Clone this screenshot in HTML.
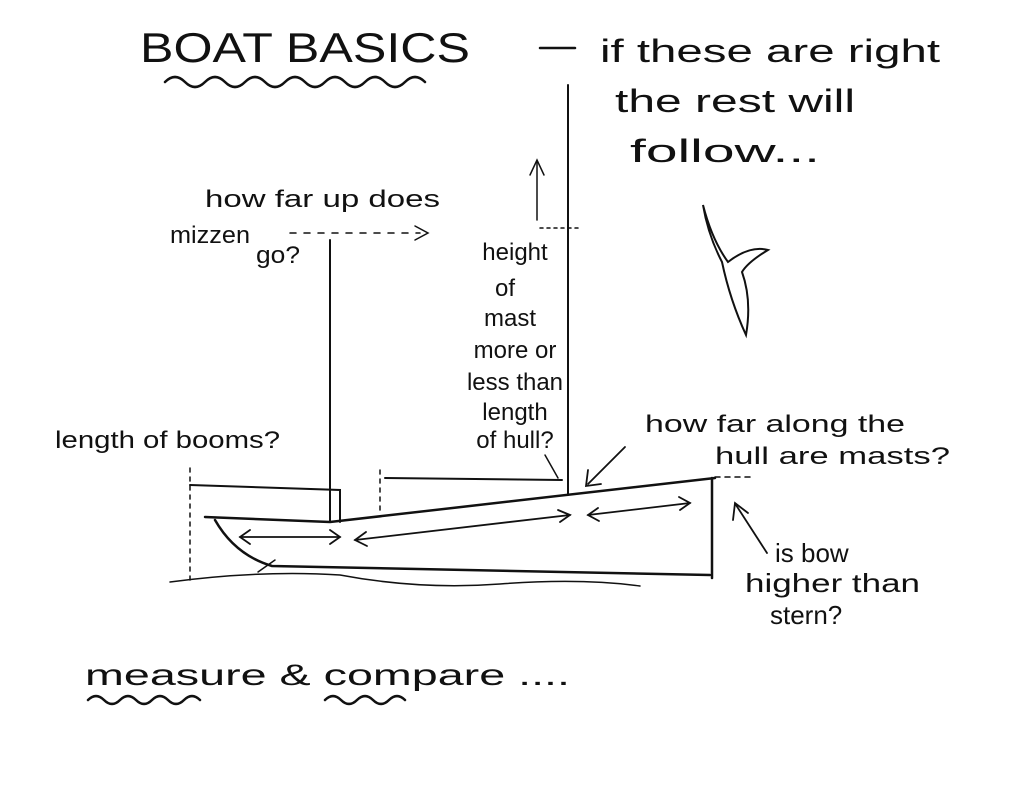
<!DOCTYPE html>
<html><head><meta charset="utf-8"><style>
html,body{margin:0;padding:0;background:#fff;width:1024px;height:785px;overflow:hidden}
svg text{font-family:"Liberation Sans",sans-serif;fill:#111}
</style></head><body>
<svg width="1024" height="785" viewBox="0 0 1024 785" xmlns="http://www.w3.org/2000/svg">
<g stroke="#111" stroke-width="2.5" fill="none" stroke-linecap="round">
<path d="M165 82 q10 -10 20 0 t20 0 t20 0 t20 0 t20 0 t20 0 t20 0 t20 0 t20 0 t20 0 t20 0 t20 0 t20 0"/>
<line x1="540" y1="48" x2="575" y2="48"/>
<line x1="568" y1="85" x2="568" y2="495" stroke-width="2"/>
<line x1="540" y1="228" x2="580" y2="228" stroke-dasharray="3 4" stroke-width="1.5"/>
<line x1="537" y1="220" x2="537" y2="162" stroke-width="1.5"/>
<path d="M530 175 L537 160 L544 175" stroke-width="1.5"/>
<line x1="330" y1="240" x2="330" y2="522" stroke-width="2"/>
<line x1="290" y1="233" x2="420" y2="233" stroke-dasharray="6 8" stroke-width="1.5"/>
<path d="M415 226 L428 233 L415 240" stroke-width="1.5"/>
<path d="M190 485 L340 490 L340 522" stroke-width="2"/>
<path d="M385 478 L562 480" stroke-width="2"/>
<line x1="190" y1="468" x2="190" y2="580" stroke-dasharray="4 5" stroke-width="1.5"/>
<line x1="380" y1="470" x2="380" y2="512" stroke-dasharray="4 5" stroke-width="1.5"/>
<line x1="545" y1="455" x2="558" y2="478" stroke-width="1.5"/>
<path d="M205 517 L330 522 L715 478" stroke-width="2.5"/>
<path d="M712 478 L712 578" stroke-width="2.5"/>
<path d="M215 520 Q235 555 272 566 L710 575"/>
<path d="M258 572 L275 560" stroke-width="1.5"/>
<path d="M170 582 Q260 570 340 575 Q420 590 500 584 Q580 578 640 586" stroke-width="1.5"/>
<line x1="715" y1="477" x2="755" y2="477" stroke-dasharray="5 5" stroke-width="1.5"/>
<g stroke-width="1.8">
<line x1="240" y1="537" x2="340" y2="537"/><path d="M250 530 L240 537 L250 544 M330 530 L340 537 L330 544"/>
<line x1="355" y1="540" x2="570" y2="515"/><path d="M366 532 L355 540 L367 546 M558 510 L570 515 L560 522"/>
<line x1="588" y1="515" x2="690" y2="503"/><path d="M598 508 L588 515 L599 521 M679 497 L690 503 L680 510"/>
</g>
<line x1="625" y1="447" x2="588" y2="484" stroke-width="1.8"/><path d="M588 470 L586 486 L601 484" stroke-width="1.8"/>
<line x1="767" y1="553" x2="736" y2="505" stroke-width="1.8"/><path d="M733 520 L735 503 L748 513" stroke-width="1.8"/>
<path d="M88 700 q8 -8 16 0 t16 0 t16 0 t16 0 t16 0 t16 0 t16 0"/>
<path d="M325 700 q8 -8 16 0 t16 0 t16 0 t16 0 t16 0"/>
<path d="M703 205 Q712 240 728 262 Q750 245 768 250 Q748 262 742 272 Q752 300 746 335 Q730 300 722 262 Q708 235 703 205 Z" stroke-width="2"/>
</g>
<g font-size="24">
<text x="140" y="62" font-size="42" textLength="330" lengthAdjust="spacingAndGlyphs">BOAT BASICS</text>
<text x="600" y="62" font-size="32" textLength="340" lengthAdjust="spacingAndGlyphs">if these are right</text>
<text x="615" y="112" font-size="32" textLength="240" lengthAdjust="spacingAndGlyphs">the rest will</text>
<text x="630" y="162" font-size="32" textLength="190" lengthAdjust="spacingAndGlyphs">follow...</text>
<text x="205" y="207" textLength="235" lengthAdjust="spacingAndGlyphs">how far up does</text>
<text x="170" y="243" textLength="80" lengthAdjust="spacingAndGlyphs">mizzen</text>
<text x="256" y="263" textLength="44" lengthAdjust="spacingAndGlyphs">go?</text>
<g text-anchor="middle">
<text x="515" y="260">height</text>
<text x="505" y="296">of</text>
<text x="510" y="326">mast</text>
<text x="515" y="358">more or</text>
<text x="515" y="390">less than</text>
<text x="515" y="420">length</text>
<text x="515" y="448">of hull?</text>
</g>
<text x="55" y="448" textLength="225" lengthAdjust="spacingAndGlyphs">length of booms?</text>
<text x="645" y="432" textLength="260" lengthAdjust="spacingAndGlyphs">how far along the</text>
<text x="715" y="464" textLength="235" lengthAdjust="spacingAndGlyphs">hull are masts?</text>
<text x="775" y="562" font-size="26">is bow</text>
<text x="745" y="592" font-size="26" textLength="175" lengthAdjust="spacingAndGlyphs">higher than</text>
<text x="770" y="624" font-size="26">stern?</text>
<text x="85" y="685" font-size="30" textLength="485" lengthAdjust="spacingAndGlyphs">measure &amp; compare ....</text>
</g>
</svg>
</body></html>
